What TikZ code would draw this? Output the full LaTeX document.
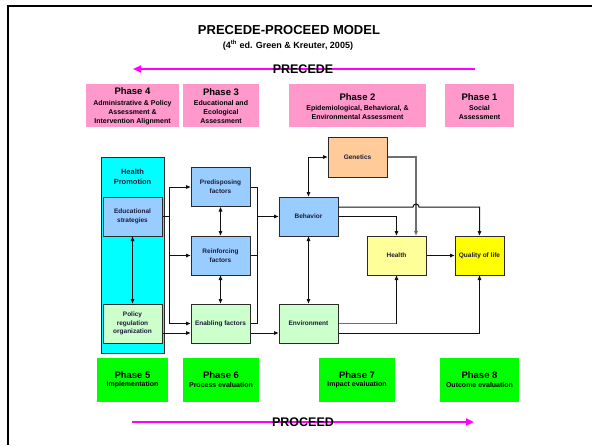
\documentclass[tikz,border=0pt]{standalone}
\usepackage{fontspec}
\setmainfont{Liberation Sans}
\usetikzlibrary{arrows.meta}
\definecolor{pinkbox}{HTML}{FF99CC}
\definecolor{arrowmag}{HTML}{FF00FF}
\definecolor{cyanbox}{HTML}{00FFFF}
\definecolor{bluebox}{HTML}{99CCFF}
\definecolor{lgreen}{HTML}{CCFFCC}
\definecolor{orangebox}{HTML}{FFCC99}
\definecolor{lyellow}{HTML}{FFFF99}
\definecolor{yellowbox}{HTML}{FFFF00}
\definecolor{greenbox}{HTML}{00FF00}
\definecolor{boxline}{HTML}{2A2A2A}
\definecolor{nodetext}{HTML}{1E1E3C}
\definecolor{lineblack}{HTML}{111111}
\definecolor{linegray}{HTML}{707070}
\begin{document}
\begin{tikzpicture}[x=1pt,y=-1pt,
  box/.style={draw=boxline,line width=1pt,inner sep=0pt,align=center,text=nodetext,
    minimum width=59pt,minimum height=39pt,font=\bfseries\fontsize{6.5}{8.7}\selectfont},
  conn/.style={draw=lineblack,line width=1pt},
  gconn/.style={draw=linegray,line width=1.5pt},
  tip/.style={-{Triangle[length=4.5pt,width=3.6pt]}},
  both/.style={{Triangle[length=4.5pt,width=3.6pt]}-{Triangle[length=4.5pt,width=3.6pt]}},
  phasebox/.style={draw=none,inner sep=0pt,minimum height=43pt},
  ph/.style={font=\bfseries\fontsize{9.5}{11}\selectfont,inner sep=0pt},
  phs/.style={font=\bfseries\fontsize{7}{9}\selectfont,inner sep=0pt,align=center},
  bigarrow/.style={draw=arrowmag,line width=2pt,-{Triangle[length=8pt,width=7pt]}},
  bigtext/.style={font=\bfseries\fontsize{12.5}{14}\selectfont,inner sep=0pt}]
\useasboundingbox (0,0) rectangle (592,445);
\fill[white] (0,0) rectangle (592,445);
\draw[line width=2.4pt,black] (8,445) -- (8,6) -- (592,6);

% title
\node[font=\bfseries\fontsize{13}{15}\selectfont,inner sep=0pt] (title) at (289,30) {PRECEDE-PROCEED MODEL};
\node[font=\bfseries\fontsize{9}{11}\selectfont,inner sep=0pt] (subtitle) at (288,45) {(4\textsuperscript{th} ed. Green \& Kreuter, 2005)};

% PRECEDE arrow
\coordinate (pR) at (475,69);
\coordinate (pL) at (133,69);
\draw[bigarrow] (pR) -- (pL);
\node[bigtext] (precede) at (303,69.5) {PRECEDE};

% top phases
\node[phasebox,fill=pinkbox,minimum width=93pt] (p4) at (132.5,105.5) {};
\node[ph] (p4t) at (132.5,91) {Phase 4};
\node[phs] (p4s) at (132.5,113) {Administrative \& Policy\\Assessment \&\\Intervention Alignment};
\node[phasebox,fill=pinkbox,minimum width=76pt] (p3) at (221,105.5) {};
\node[ph] (p3t) at (221,92) {Phase 3};
\node[phs] (p3s) at (221,111.5) {Educational and\\Ecological\\Assessment};
\node[phasebox,fill=pinkbox,minimum width=137pt] (p2) at (357.5,105.5) {};
\node[ph] (p2t) at (357.5,97) {Phase 2};
\node[phs] (p2s) at (357.5,112.3) {Epidemiological, Behavioral, \&\\Environmental Assessment};
\node[phasebox,fill=pinkbox,minimum width=69pt] (p1) at (479.5,105.5) {};
\node[ph] (p1t) at (479.5,97) {Phase 1};
\node[phs] (p1s) at (479.5,112) {Social\\Assessment};

% main boxes
\node[box,fill=cyanbox,minimum width=63pt,minimum height=196pt] (hp) at (132.5,255) {};
\node[font=\bfseries\fontsize{7.5}{10}\selectfont,text=nodetext,align=center,inner sep=0pt] (hpt) at (132.5,177) {Health\\Promotion};
\node[box,fill=bluebox] (edu) at (132.5,216.5) {Educational\\strategies};
\node[box,fill=lgreen] (pol) at (132.5,323.5) {Policy\\regulation\\organization};
\node[box,fill=bluebox] (pre) at (220.5,187) {Predisposing\\factors};
\node[box,fill=bluebox] (rei) at (220.5,255.5) {Reinforcing\\factors};
\node[box,fill=lgreen] (ena) at (220.5,323.5) {Enabling factors};
\node[box,fill=bluebox] (beh) at (308.5,216.5) {Behavior};
\node[box,fill=lgreen] (env) at (308.5,323.5) {Environment};
\node[box,fill=orangebox,minimum height=40pt] (gen) at (357.5,157) {Genetics};
\node[box,fill=lyellow] (hea) at (396.5,255.5) {Health};
\node[box,fill=yellowbox,minimum width=49pt] (qol) at (479.5,255.5) {Quality of life};

% connectors
\coordinate (j1) at (169,0);
\coordinate (j2) at (257,0);
\coordinate (j4) at (416,0);
\coordinate (lowY) at (0,333);
\coordinate (hiY) at (0,207);
\draw[conn] (edu.east) -- (j1 |- edu.east);
\draw[conn] (j1 |- pre.west) -- (j1 |- ena.west);
\draw[conn,tip] (j1 |- pre.west) -- (pre.west);
\draw[conn,tip] (j1 |- rei.west) -- (rei.west);
\draw[conn,tip] (j1 |- ena.west) -- (ena.west);
\draw[conn,tip] (pol.east |- lowY) -- (ena.west |- lowY);
\draw[conn,both] (edu.south) -- (pol.north);
\draw[conn,both] (pre.south) -- (rei.north);
\draw[conn,both] (rei.south) -- (ena.north);
\draw[conn] (pre.east) -- (j2 |- pre.east) -- (j2 |- ena.east) -- (ena.east);
\draw[conn] (rei.east) -- (j2 |- rei.east);
\draw[conn,tip] (j2 |- beh.west) -- (beh.west);
\draw[conn,tip] (ena.east |- lowY) -- (env.west |- lowY);
\draw[conn,both] (beh.south) -- (env.north);
\draw[conn,both] (beh.north) -- (beh.north |- gen.west) -- (gen.west);
\draw[gconn,tip] (gen.east) -- (j4 |- gen.east) -- (j4 |- hea.north);
\draw[conn,tip] (beh.east |- hiY) -- (413,207) arc[start angle=180,end angle=360,radius=3] -- (qol.north |- hiY) -- (qol.north);
\draw[conn,tip] (beh.east) -- (hea.north |- beh.east) -- (hea.north);
\draw[conn,tip] (hea.east) -- (qol.west);
\draw[gconn] (env.east) -- (hea.south |- env.east);
\draw[conn,tip] (hea.south |- env.east) -- (hea.south);
\draw[conn,tip] (env.east |- lowY) -- (qol.south |- lowY) -- (qol.south);

% bottom phases
\node[phasebox,fill=greenbox,minimum width=71pt,minimum height=44pt] (p5) at (132.5,380) {};
\node[ph] (p5t) at (132.5,375.5) {Phase 5};
\node[phs] (p5s) at (132.5,385) {Implementation};
\node[phasebox,fill=greenbox,minimum width=76pt,minimum height=44pt] (p6) at (221,380) {};
\node[ph] (p6t) at (221,375.5) {Phase 6};
\node[phs] (p6s) at (221,385) {Process evaluation};
\node[phasebox,fill=greenbox,minimum width=76pt,minimum height=44pt] (p7) at (357,380) {};
\node[ph] (p7t) at (357,375.5) {Phase 7};
\node[phs] (p7s) at (357,385) {Impact evaluation};
\node[phasebox,fill=greenbox,minimum width=79pt,minimum height=44pt] (p8) at (479.5,380) {};
\node[ph] (p8t) at (479.5,375.5) {Phase 8};
\node[phs] (p8s) at (479.5,385) {Outcome evaluation};

% PROCEED arrow
\coordinate (qL) at (132,422);
\coordinate (qR) at (474,422);
\draw[bigarrow] (qL) -- (qR);
\node[bigtext] (proceed) at (303,422.5) {PROCEED};
\end{tikzpicture}
\end{document}
